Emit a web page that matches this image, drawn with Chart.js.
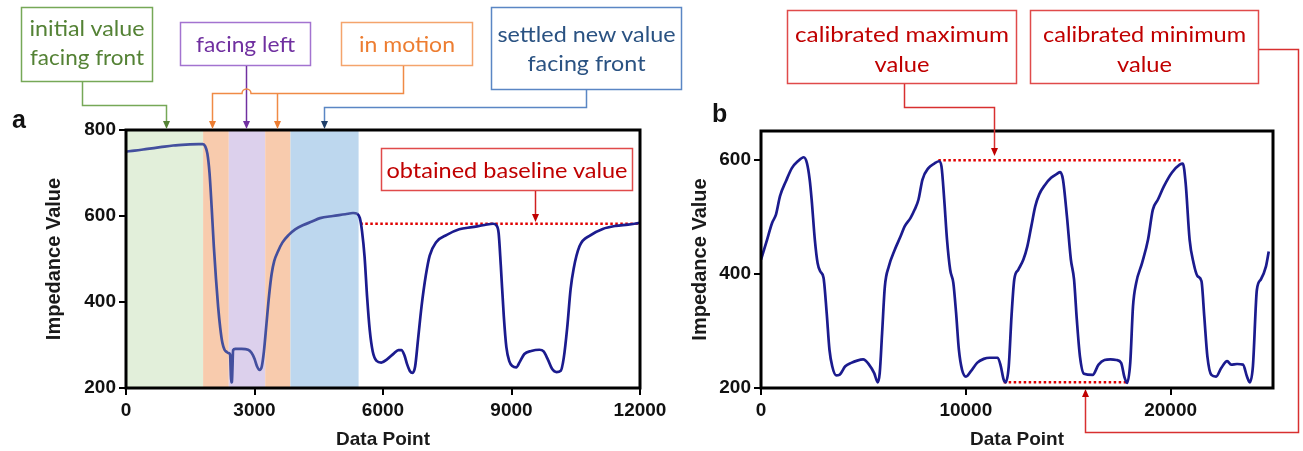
<!DOCTYPE html>
<html><head><meta charset="utf-8">
<script src="https://cdn.jsdelivr.net/npm/chart.js@4"></script>
<style>
html,body{margin:0;padding:0;background:#fff;width:1303px;height:451px;overflow:hidden}
#wrap{position:relative;width:1303px;height:451px}
canvas{position:absolute;top:0}
#chartA{left:0}
#chartB{left:650px}
#ann{position:absolute;left:0;top:0;pointer-events:none}
</style></head><body>
<div id="wrap">
<canvas id="chartA" width="700" height="451"></canvas>
<canvas id="chartB" width="653" height="451"></canvas>
<svg id="ann" width="1303" height="451" xmlns="http://www.w3.org/2000/svg"></svg>
</div>
<script>
// ---------- Panel a data ----------
const aX = [0,200,500,800,1100,1400,1700,1790,1850,1900,1950,2000,2050,2100,2150,2200,2250,2300,2350,2400,2430,2445,2458,2472,2485,2500,2550,2700,2850,2930,3000,3060,3120,3170,3220,3280,3340,3400,3460,3550,3650,3800,3950,4140,4340,4530,4830,5120,5300,5400,5460,5510,5570,5630,5690,5760,5850,5960,6100,6250,6360,6430,6500,6560,6630,6690,6750,6820,6900,7000,7090,7240,7490,7780,8080,8370,8570,8650,8700,8750,8820,8880,8950,9020,9110,9200,9300,9460,9650,9750,9850,9950,10050,10150,10220,10300,10380,10450,10590,10840,11130,11430,11720,12000];
const aY = [750,752,756,760,764,766,767,767,762,745,700,620,530,455,390,340,305,289,284,281,278,240,213,214,245,288,291,291,289,282,268,250,242,250,285,350,415,465,495,518,538,556,569,579,587,595,600,604,607,605,595,565,505,410,335,285,263,259,267,280,288,288,276,256,239,235,250,315,390,462,508,539,556,569,574,579,582,578,560,485,367,295,262,251,248,262,279,286,289,285,266,244,237,240,270,340,430,477,530,555,570,577,580,584];
const aBandStart = [0,1800,2400,3250,3840];
const aBandEnd   = [1800,2400,3250,3840,5430];
const aBaselineX = [5470,12000];
const aBaselineY = [582,582];
const aXTicks = [0,3000,6000,9000,12000];
const aYTicks = [200,400,600,800];

// ---------- Panel b data ----------
const bX = [0,251,541,734,928,1217,1507,1797,2087,2242,2377,2473,2628,2763,2899,3053,3208,3343,3478,3671,3826,4116,4406,4696,4986,5275,5527,5700,5797,5913,6048,6242,6531,6821,7014,7304,7498,7691,7884,8174,8464,8696,8812,8947,9082,9237,9391,9527,9662,9816,10010,10242,10551,10879,11169,11556,11710,11845,11942,12097,12232,12367,12560,12812,13005,13198,13391,13585,13874,14164,14454,14609,14744,14937,15130,15285,15420,15575,15768,16193,16483,16773,17063,17353,17585,17739,17874,18029,18164,18319,18609,18899,19130,19382,19671,20058,20444,20599,20734,20928,21121,21314,21507,21643,21797,21990,22222,22473,22763,22957,23246,23536,23729,23865,24019,24213,24406,24657,24792];
const bY = [425,454,489,504,536,562,585,597,604,594,565,530,460,419,404,393,331,267,238,222,223,238,244,248,250,241,226,210,226,296,378,413,442,466,483,498,512,530,565,585,593,597,588,530,460,407,384,331,267,232,220,229,244,251,253,253,238,215,210,238,326,390,407,425,448,483,518,539,556,568,575,578,565,501,425,390,320,255,225,223,241,249,250,249,244,220,209,244,343,384,419,460,512,530,553,577,591,593,559,460,419,396,387,326,255,223,220,235,247,241,242,241,220,210,238,372,390,413,439];
const bMaxX = [8660,20480];
const bMaxY = [599,599];
const bMinX = [11850,17930];
const bMinY = [210,210];
const bXTicks = [0,10000,20000];
const bYTicks = [200,400,600];

// ---------- helpers ----------
const pts = (xs, ys) => xs.map((x,i)=>({x, y: ys[i]}));
const FAM = '"Liberation Sans", Arial, sans-serif';
const tickFont = {family:FAM, size:19, weight:'bold'};
const NAVY = '#1b1b8e';

function scaleOpts(min, max, ticks, isY, fit, title){
  return {
    type:'linear', min, max,
    afterBuildTicks: s => { s.ticks = ticks.map(v => ({value:v})); },
    afterFit: s => { if (isY) s.width = fit; else s.height = fit; },
    grid:{display:true, drawOnChartArea:false, drawTicks:true, tickLength:7, color:'#000', lineWidth:2},
    border:{display:false},
    ticks:{color:'#111', font:tickFont, padding: isY ? 3 : 4, maxRotation:0, autoSkip:false, callback: v => String(v)},
    title:{display:true, text:title, color:'#1a1a1a', font:{family:FAM, size: isY ? 20 : 19, weight:'bold'}, padding:{top:0, bottom:0}}
  };
}

const boxPlugin = {
  id:'box',
  afterDatasetsDraw(chart){
    const {ctx, chartArea:a} = chart;
    ctx.save(); ctx.strokeStyle = '#000'; ctx.lineWidth = 3;
    ctx.strokeRect(a.left, a.top, a.right - a.left, a.bottom - a.top);
    ctx.restore();
  }
};

const bandColors = ['#e2efda','#f8cbad','#dcd0ec','#f8cbad','#bdd7ee'];
const bandPlugin = {
  id:'bands',
  beforeDatasetsDraw(chart){
    const {ctx, chartArea:a, scales:{x}} = chart;
    ctx.save();
    aBandStart.forEach((s,i) => {
      const x0 = x.getPixelForValue(s), x1 = x.getPixelForValue(aBandEnd[i]);
      ctx.fillStyle = bandColors[i];
      ctx.fillRect(x0, a.top, x1 - x0, a.bottom - a.top);
    });
    ctx.restore();
  }
};

const lineDs = (data, extra) => Object.assign({
  data, borderColor:NAVY, borderWidth:2.7, pointRadius:0, fill:false,
  cubicInterpolationMode:'monotone'
}, extra || {});
const dotDs = data => ({data, borderColor:'#e00000', borderWidth:2.5, borderDash:[2.5,2.5], pointRadius:0, fill:false, tension:0});

const common = {
  responsive:false, animation:false,
  plugins:{legend:{display:false}, tooltip:{enabled:false}},
  events:[]
};

new Chart(document.getElementById('chartA'), {
  type:'line',
  data:{datasets:[
    lineDs(pts(aX, aY), {segment:{borderColor: c => c.p1.parsed.x <= aBandEnd[aBandEnd.length-1] ? '#434f9e' : NAVY}}),
    dotDs(pts(aBaselineX, aBaselineY))
  ]},
  options:Object.assign({}, common, {
    layout:{padding:{left:42, right:60, top:130, bottom:0}},
    scales:{
      x: scaleOpts(0, 12000, aXTicks, false, 63, 'Data Point'),
      y: scaleOpts(200, 800, aYTicks, true, 84, 'Impedance Value')
    }
  }),
  plugins:[bandPlugin, boxPlugin]
});

new Chart(document.getElementById('chartB'), {
  type:'line',
  data:{datasets:[
    lineDs(pts(bX, bY)),
    dotDs(pts(bMaxX, bMaxY)),
    dotDs(pts(bMinX, bMinY))
  ]},
  options:Object.assign({}, common, {
    layout:{padding:{left:38, right:30, top:131, bottom:0}},
    scales:{
      x: scaleOpts(0, 25000, bXTicks, false, 63, 'Data Point'),
      y: scaleOpts(200, 650, bYTicks, true, 73, 'Impedance Value')
    }
  }),
  plugins:[boxPlugin]
});

// ---------- annotations (callout boxes and connectors) ----------
const svg = document.getElementById('ann');
const NS = 'http://www.w3.org/2000/svg';
function el(tag, attrs, text){
  const e = document.createElementNS(NS, tag);
  for (const k in attrs) e.setAttribute(k, attrs[k]);
  if (text !== undefined) e.textContent = text;
  svg.appendChild(e); return e;
}
function callout(b){
  el('rect', {x:b.x+0.5, y:b.y+0.5, width:b.w, height:b.h, fill:'#fff', stroke:b.stroke, 'stroke-width':1.5});
  b.lines.forEach(l => el('text', {x:b.x + b.w/2 + 0.5, y:l[1], 'text-anchor':'middle', 'dominant-baseline':'central',
    'font-family':'Lato, "Open Sans", sans-serif', 'font-size':22, fill:b.color, textLength:l[2], lengthAdjust:'spacingAndGlyphs'}, l[0]));
}
function path(d, color){ el('path', {d, fill:'none', stroke:color, 'stroke-width':1.5}); }
function arrow(x, tipY, dir, color){
  const s = dir === 'down' ? -1 : 1;
  el('polygon', {points:`${x},${tipY} ${x-3.5},${tipY+s*8} ${x+3.5},${tipY+s*8}`, fill:color});
}

callout({x:21, y:7, w:131, h:74, stroke:'#76a857', color:'#548235', lines:[['initial value',27,115],['facing front',56,114]]});
callout({x:180, y:22, w:130, h:43, stroke:'#a373d0', color:'#7030a0', lines:[['facing left',43,99]]});
callout({x:341, y:22, w:131, h:43, stroke:'#f4a46c', color:'#ed7d31', lines:[['in motion',43,96]]});
callout({x:491, y:7, w:190, h:82, stroke:'#5a86c4', color:'#2a5282', lines:[['settled new value',33,178],['facing front',62,118]]});
callout({x:787, y:10, w:229, h:73, stroke:'#e04a4a', color:'#c00000', lines:[['calibrated maximum',33,214],['value',63,55]]});
callout({x:1030, y:10, w:228, h:73, stroke:'#e04a4a', color:'#c00000', lines:[['calibrated minimum',33,203],['value',63,55]]});
callout({x:381, y:148, w:251, h:42, stroke:'#e04a4a', color:'#c00000', lines:[['obtained baseline value',169,241]]});

// green
path('M82.5,82 V105.5 H166.5 V121', '#76a857'); arrow(166.5, 129, 'down', '#548235');
// purple
path('M246.5,66 V121', '#7030a0'); arrow(246.5, 129, 'down', '#7030a0');
// orange with hop over purple line
path('M403.5,66 V93.5 H251 A4.5,4.5 0 0 0 242,93.5 H212.5 V121 M277.5,93.5 V121', '#f08a45');
arrow(212.5, 129, 'down', '#ed7d31'); arrow(277.5, 129, 'down', '#ed7d31');
// blue
path('M586.5,90 V107.5 H324.5 V121', '#5a86c4'); arrow(324.5, 129, 'down', '#1f3f6a');
// baseline arrow
path('M535.5,191 V214', '#d02020'); arrow(535.5, 222, 'down', '#c00000');
// calibrated maximum
path('M904.5,84 V107.5 H994.5 V148', '#d83030'); arrow(994.5, 156, 'down', '#c00000');
// calibrated minimum
path('M1259,49.5 H1298.5 V432.5 H1085.5 V397', '#d83030'); arrow(1085.5, 389, 'up', '#c00000');

// panel letters
el('text', {x:12, y:128, 'font-family':FAM, 'font-weight':'bold', 'font-size':25, fill:'#111'}, 'a');
el('text', {x:712, y:122, 'font-family':FAM, 'font-weight':'bold', 'font-size':25, fill:'#111'}, 'b');
</script>
</body></html>
